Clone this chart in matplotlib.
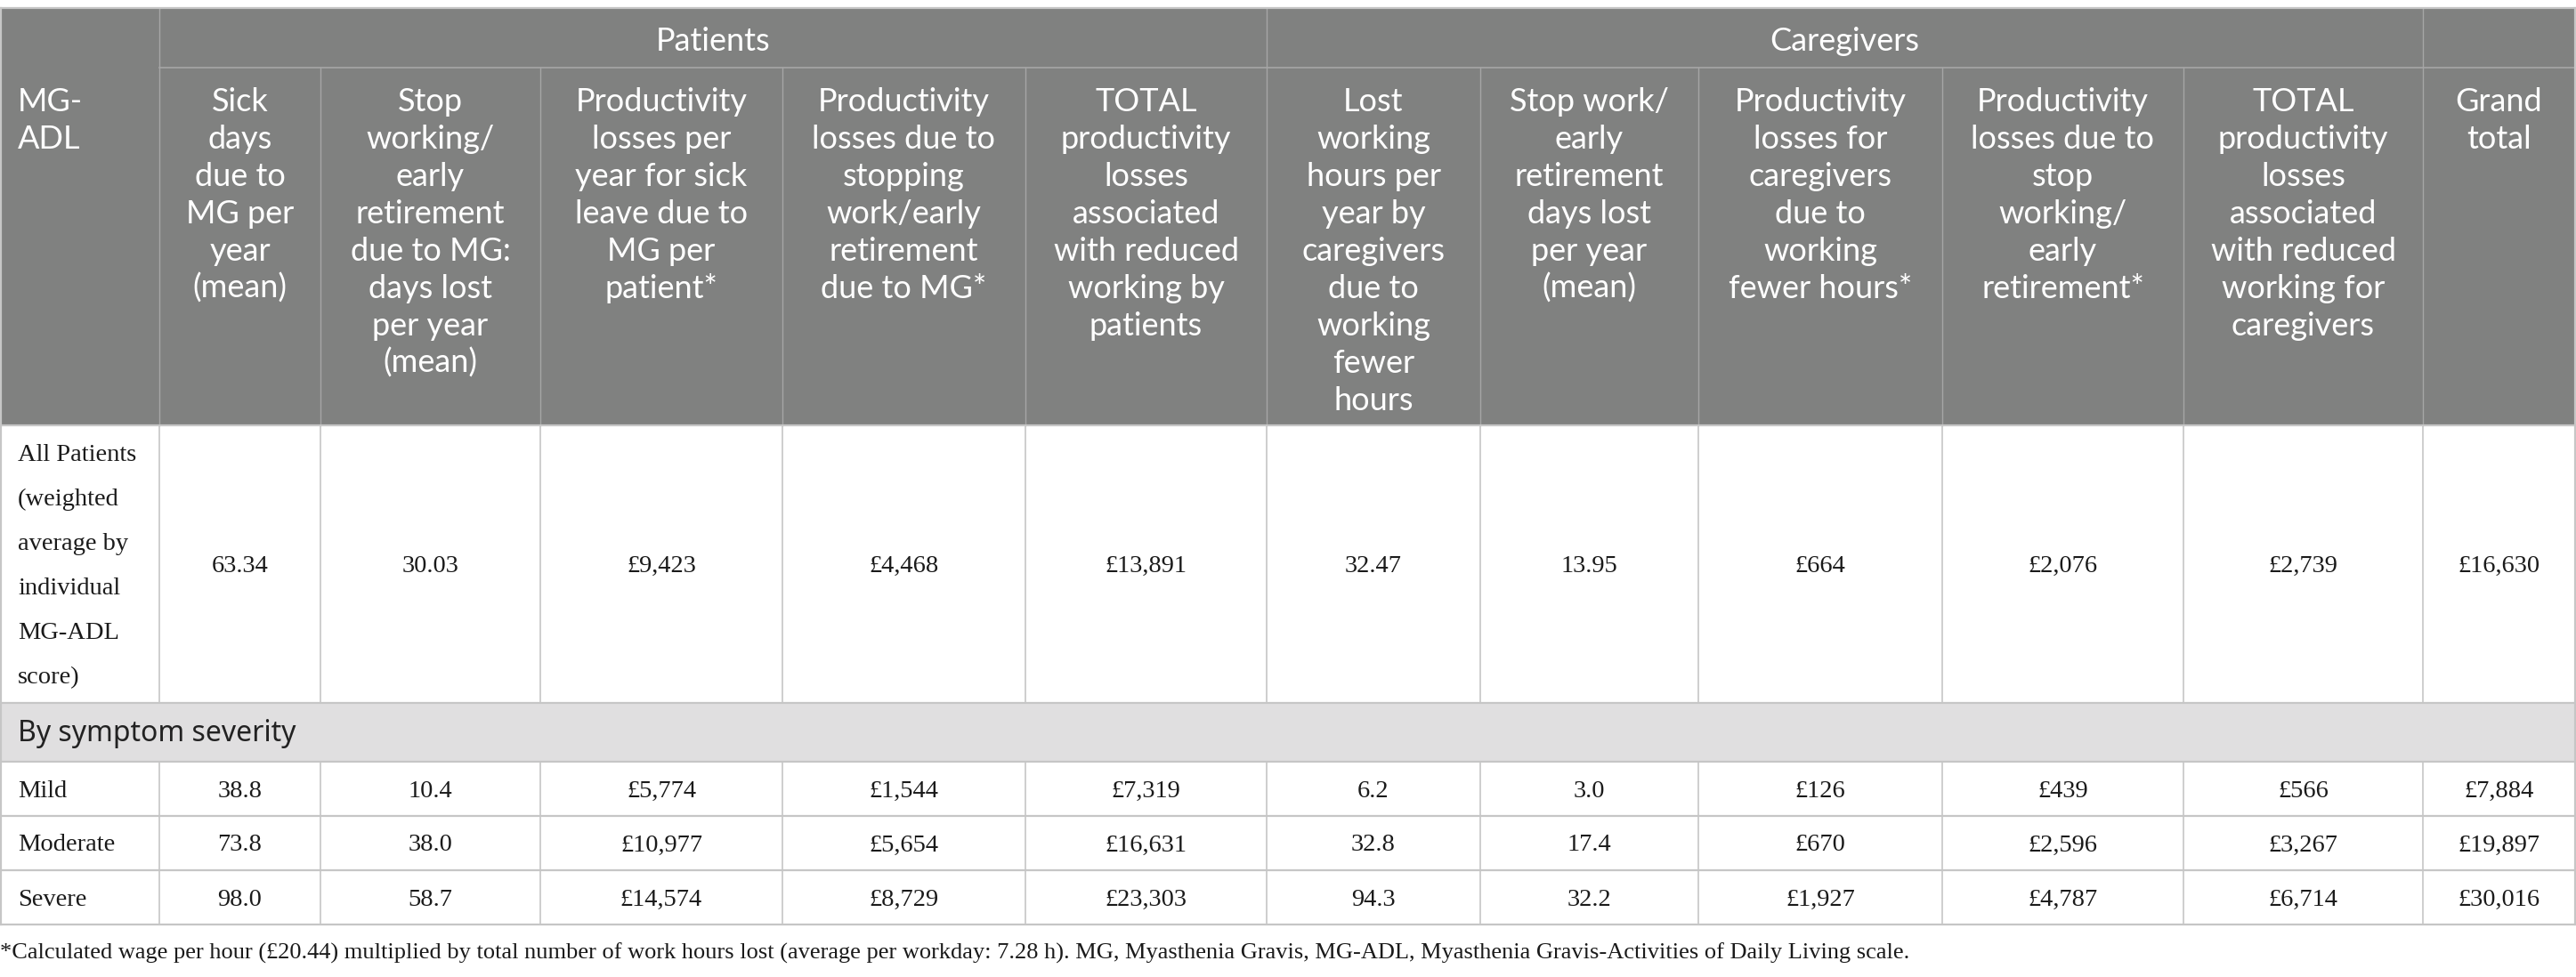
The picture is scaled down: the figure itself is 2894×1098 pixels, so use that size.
import matplotlib.pyplot as plt
import matplotlib.patches as patches

# table content
group_labels = ["Patients", "Caregivers"]
col_headers = [
    "Sick\ndays\ndue to\nMG per\nyear\n(mean)",
    "Stop\nworking/\nearly\nretirement\ndue to MG:\ndays lost\nper year\n(mean)",
    "Productivity\nlosses per\nyear for sick\nleave due to\nMG per\npatient*",
    "Productivity\nlosses due to\nstopping\nwork/early\nretirement\ndue to MG*",
    "TOTAL\nproductivity\nlosses\nassociated\nwith reduced\nworking by\npatients",
    "Lost\nworking\nhours per\nyear by\ncaregivers\ndue to\nworking\nfewer\nhours",
    "Stop work/\nearly\nretirement\ndays lost\nper year\n(mean)",
    "Productivity\nlosses for\ncaregivers\ndue to\nworking\nfewer hours*",
    "Productivity\nlosses due to\nstop\nworking/\nearly\nretirement*",
    "TOTAL\nproductivity\nlosses\nassociated\nwith reduced\nworking for\ncaregivers",
    "Grand\ntotal",
]
row_labels = ["All Patients\n(weighted\naverage by\nindividual\nMG-ADL\nscore)",
              "Mild", "Moderate", "Severe"]
section_label = "By symptom severity"

sick_days = [63.34, 38.8, 73.8, 98.0]
stop_days = [30.03, 10.4, 38.0, 58.7]
pat_sick_loss = [9423, 5774, 10977, 14574]
pat_stop_loss = [4468, 1544, 5654, 8729]
pat_total = [13891, 7319, 16631, 23303]
cg_hours = [32.47, 6.2, 32.8, 94.3]
cg_stop_days = [13.95, 3.0, 17.4, 32.2]
cg_hours_loss = [664, 126, 670, 1927]
cg_stop_loss = [2076, 439, 2596, 4787]
cg_total = [2739, 566, 3267, 6714]
grand_total = [16630, 7884, 19897, 30016]

columns = [
    (sick_days, "num"), (stop_days, "num"), (pat_sick_loss, "gbp"),
    (pat_stop_loss, "gbp"), (pat_total, "gbp"), (cg_hours, "num"),
    (cg_stop_days, "num"), (cg_hours_loss, "gbp"), (cg_stop_loss, "gbp"),
    (cg_total, "gbp"), (grand_total, "gbp"),
]

footnote = ("*Calculated wage per hour (£20.44) multiplied by total number of work hours lost "
            "(average per workday: 7.28 h). MG, Myasthenia Gravis, MG-ADL, Myasthenia "
            "Gravis-Activities of Daily Living scale.")

# layout (pixels)
W, H = 2894, 1098
xs = [1, 179, 360, 607, 879, 1152, 1423, 1663, 1908, 2182, 2453, 2722, 2893]
y_top, y_grp, y_hdr = 9, 76, 478
row_edges = [478, 790, 856, 917, 978, 1039]

HDR_BG = '#808180'
HDR_LINE = '#a6a6a6'
GRID = '#c6c6c6'
BAND = '#e0dfe0'
SANS = ['Lato', 'DejaVu Sans']
SERIF = ['Liberation Serif', 'DejaVu Serif']

fig = plt.figure(figsize=(W / 100, H / 100), dpi=100)
ax = fig.add_axes([0, 0, 1, 1])
ax.set_xlim(0, W)
ax.set_ylim(H, 0)
ax.axis('off')

def fmt(v, kind, row):
    if kind == "gbp":
        return "£{:,.0f}".format(v)
    return "{:.2f}".format(v) if row == 0 else "{:.1f}".format(v)

def lines_text(x, y0, txt, dy, **kw):
    for i, ln in enumerate(txt.split("\n")):
        ax.text(x, y0 + i * dy, ln, va='baseline', **kw)

# header background
ax.add_patch(patches.Rectangle((xs[0], y_top), xs[-1] - xs[0], y_hdr - y_top,
                               facecolor=HDR_BG, edgecolor='none'))
# header lines
ax.plot([xs[1], xs[-1]], [y_grp, y_grp], color=HDR_LINE, lw=1.2)
for x in [xs[1], xs[6], xs[11]]:
    ax.plot([x, x], [y_top, y_hdr], color=HDR_LINE, lw=1.0)
for x in xs[2:6] + xs[7:11]:
    ax.plot([x, x], [y_grp, y_hdr], color=HDR_LINE, lw=1.0)

hdr_kw = dict(color='white', fontsize=26, family=SANS, ha='center')
ax.text((xs[1] + xs[6]) / 2, 57, group_labels[0], va='baseline', **hdr_kw)
ax.text((xs[6] + xs[11]) / 2, 57, group_labels[1], va='baseline', **hdr_kw)
lines_text(20, 125, "MG-\nADL", 42, color='white', fontsize=26, family=SANS, ha='left')
for j, h in enumerate(col_headers):
    lines_text((xs[j + 1] + xs[j + 2]) / 2, 125, h, 42, **hdr_kw)

# section band
ax.add_patch(patches.Rectangle((xs[0], row_edges[1]), xs[-1] - xs[0],
                               row_edges[2] - row_edges[1], facecolor=BAND, edgecolor='none'))
ax.text(20, (row_edges[1] + row_edges[2]) / 2 + 10, section_label, va='baseline',
        color='#222222', fontsize=23, family=['Noto Sans', 'DejaVu Sans'])

# body rows
body_rows = [(row_edges[0], row_edges[1])] + [(row_edges[k], row_edges[k + 1]) for k in range(2, 5)]
body_kw = dict(color='#1a1a1a', fontsize=20.5, family=SERIF)
for r, (ya, yb) in enumerate(body_rows):
    yc = (ya + yb) / 2
    lab = row_labels[r].split("\n")
    y0 = yc + 9 - (len(lab) - 1) * 50 / 2
    lines_text(20, y0, row_labels[r], 50, ha='left', **body_kw)
    for j, (vals, kind) in enumerate(columns):
        ax.text((xs[j + 1] + xs[j + 2]) / 2, yc + 9, fmt(vals[r], kind, r),
                va='baseline', ha='center', **body_kw)
    for x in xs[1:-1]:
        ax.plot([x, x], [ya, yb], color=GRID, lw=1.2)

# horizontal grid in body
for y in row_edges:
    ax.plot([xs[0], xs[-1]], [y, y], color=GRID, lw=1.6)
ax.plot([xs[0], xs[-1]], [y_top, y_top], color=GRID, lw=1.6)
for x in [xs[0], xs[-1]]:
    ax.plot([x, x], [y_top, row_edges[-1]], color=GRID, lw=1.6)

ax.text(0, 1078, footnote, va='baseline', ha='left', color='#1a1a1a',
        fontsize=19, family=SERIF)

fig.savefig('out.png', dpi=100)
plt.close()
